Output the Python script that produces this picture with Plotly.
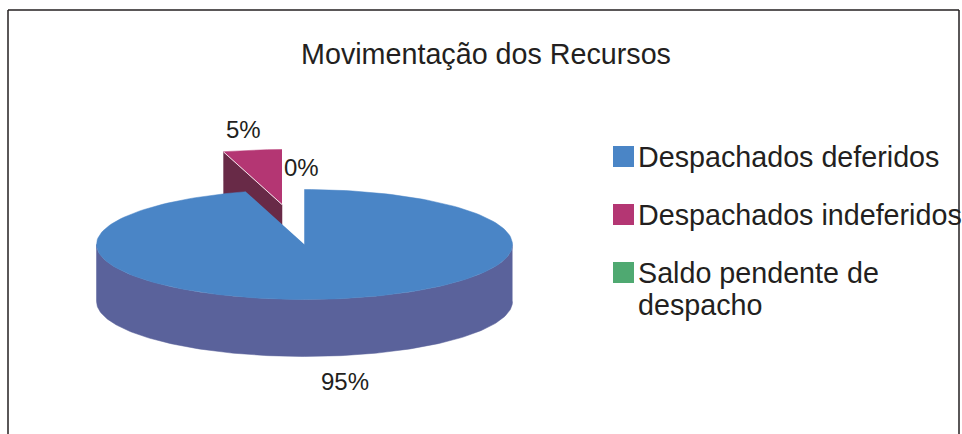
import numpy as np
import plotly.graph_objects as go

categories = ["Despachados deferidos", "Despachados indeferidos", "Saldo pendente de<br>despacho"]
values = [95.45, 4.55, 0.0]
colors = ["#4A85C6", "#B43673", "#4FA971"]
side_colors = ["#5A629B", "#682A47", "#3A7D55"]
title_text = "Movimentação dos Recursos"
ink = "#231F20"
font = "Liberation Sans, Arial, sans-serif"

# pie projection, in the pixel coordinate system of the axes
CX, CY, RX, RY, DEPTH = 304.5, 244.5, 208, 55, 57
EXPLODE = (-22.5, -40)
W, H = 962, 434

# legend layout
LEG_SWATCH_X, LEG_TEXT_X, LEG_Y0, LEG_ROW, LEG_LINE = 623.5, 638, 156.5, 58, 32


def arc(t0, t1, cx, cy):
    t = np.radians(np.linspace(t0, t1, 181))
    return cx + RX * np.sin(t), cy - RY * np.cos(t)


def sector(i):
    """Start and end angle of slice i, clockwise from 12 o'clock."""
    total = sum(values)
    cum = np.cumsum([0] + values) / total * 360
    return cum[i], cum[i + 1]


def poly(fig, x, y, color):
    fig.add_trace(go.Scatter(x=list(x), y=list(y), mode="lines", fill="toself",
                             fillcolor=color, line=dict(color=color, width=0.5),
                             hoverinfo="skip", showlegend=False))


fig = go.Figure()

# exploded slice: inner cut wall, top face, thin separator
a0, a1 = sector(1)
mx, my = CX + EXPLODE[0], CY + EXPLODE[1]
ax, ay = arc(a0, a1, mx, my)
poly(fig, [ax[0], mx, mx, ax[0]], [ay[0], my, my + DEPTH, ay[0] + DEPTH], side_colors[1])
poly(fig, np.r_[mx, ax], np.r_[my, ay], colors[1])
fig.add_trace(go.Scatter(x=[ax[0], mx], y=[ay[0], my], mode="lines",
                         line=dict(color="#F4E6EC", width=1), hoverinfo="skip", showlegend=False))

# large slice: rim and top face
fx, fy = arc(90, 270, CX, CY)
poly(fig, np.r_[fx, fx[::-1]], np.r_[fy, fy[::-1] + DEPTH], side_colors[0])
b0, b1 = sector(0)
bx, by = arc(b0, b1, CX, CY)
poly(fig, np.r_[CX, bx], np.r_[CY, by], colors[0])

# legend swatches
rows = np.arange(len(categories))
fig.add_trace(go.Scatter(x=[LEG_SWATCH_X] * len(rows), y=LEG_Y0 + rows * LEG_ROW, mode="markers",
                         marker=dict(symbol="square", size=21, color=colors, line=dict(width=0)),
                         hovertext=[c.replace("<br>", " ") for c in categories], hoverinfo="text",
                         showlegend=False))

text_font = dict(size=28.7, color=ink, family=font)
annotations = []
for row, name in zip(rows, categories):
    for j, line in enumerate(name.split("<br>")):
        annotations.append(dict(x=LEG_TEXT_X, y=LEG_Y0 + row * LEG_ROW + j * LEG_LINE, text=line,
                                showarrow=False, xanchor="left", yanchor="middle",
                                borderpad=0, borderwidth=0, font=text_font))

pct = [f"{round(v)}%" for v in values]
label_pos = [(345, 381), (243.5, 129), (301, 167)]
annotations += [dict(x=x, y=y, text=t, showarrow=False, xanchor="center", yanchor="middle",
                     font=dict(size=24, color=ink, family=font))
                for t, (x, y) in zip(pct, label_pos)]

frame = [(8, 434, 8, 10), (8, 10, 959, 10), (959, 10, 959, 434)]
shapes = [dict(type="line", x0=a, y0=b, x1=c, y1=d, line=dict(color=ink, width=1.5), layer="below")
          for a, b, c, d in frame]

fig.update_layout(
    width=W, height=H, margin=dict(l=0, r=0, t=0, b=0),
    paper_bgcolor="white", plot_bgcolor="white",
    title=dict(text=title_text, x=486 / W, xanchor="center", y=1 - 54 / H, yanchor="middle",
               font=text_font),
    xaxis=dict(range=[0, W], visible=False, fixedrange=True),
    yaxis=dict(range=[H, 0], visible=False, fixedrange=True),
    annotations=annotations, shapes=shapes, showlegend=False,
)
fig.write_html("out.html", config=dict(displayModeBar=False),
               post_script="document.body.style.margin='0';document.body.style.overflow='hidden';")
